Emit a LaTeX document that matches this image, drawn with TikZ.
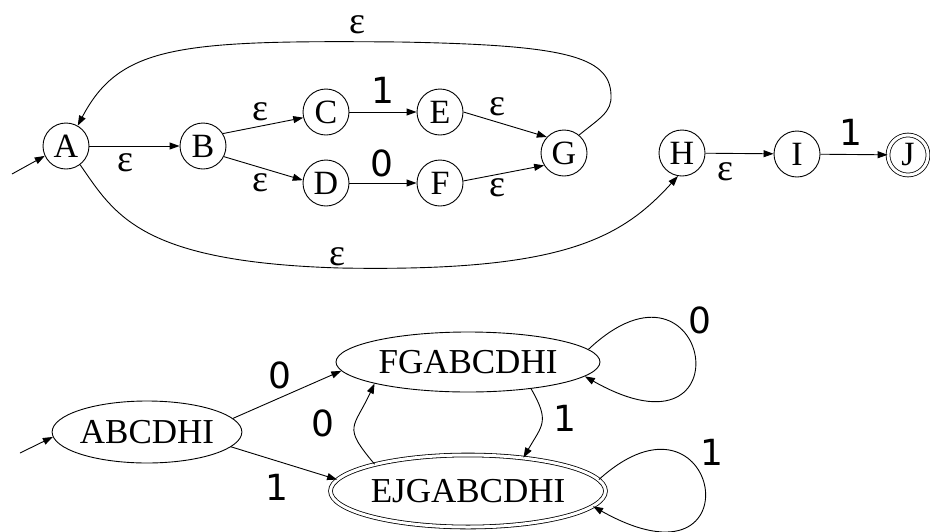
\documentclass[tikz,border=0pt]{standalone}
\usepackage{fontspec}
\setmainfont{Liberation Serif}
\newfontfamily\digitfont{DejaVu Sans}
\usetikzlibrary{arrows.meta,shapes.geometric}
\begin{document}
\begin{tikzpicture}[x=1pt,y=-1pt,
  st/.style={circle,draw,line width=0.9pt,minimum size=46pt,inner sep=0pt,font=\fontsize{34}{36}\selectfont},
  acc/.style={double,double distance=3pt,line width=0.8pt},
  el/.style={ellipse,draw,line width=0.9pt,inner sep=0pt,font=\fontsize{35}{38}\selectfont},
  edge/.style={line width=0.9pt,-{Triangle[length=10pt,width=7pt]}},
  eps/.style={inner sep=0pt,font=\fontsize{38}{40}\selectfont},
  dig/.style={inner sep=0pt,font=\digitfont\fontsize{36}{40}\selectfont}]
\useasboundingbox (0,0) rectangle (930,531);
\clip (0,0) rectangle (930,531);

% ---- NFA ----
\node[st] (A) at (66,146) {A};
\node[st] (B) at (203,146) {B};
\node[st] (C) at (326,112) {C};
\node[st] (D) at (326,183) {D};
\node[st] (E) at (440,112) {E};
\node[st] (F) at (440,183) {F};
\node[st] (G) at (564,153) {G};
\node[st] (H) at (682,153) {H};
\node[st] (I) at (797,154) {I};
\node[st,acc,minimum size=40pt] (J) at (908,155) {J};

\coordinate (s1) at (12,174);
\draw[edge] (s1) -- (A.205);
\draw[edge] (A) -- (B);
\draw[edge] (B.32) -- (C.194);
\draw[edge] (B.-27) -- (D.173);
\draw[edge] (C) -- (E);
\draw[edge] (D) -- (F);
\draw[edge] (E.0) -- (G.137);
\draw[edge] (F.5) -- (G.212);
\draw[edge] (H) -- (I);
\draw[edge] (I) -- (J);
\draw[edge] (G.50) .. controls (600,118) and (612,112) .. (611,95)
  .. controls (610,55) and (560,45) .. (400,42)
  .. controls (180,40) and (120,45) .. (A.60);
\draw[edge] (A.-53) .. controls (115,215) and (140,262) .. (340,268)
  .. controls (560,272) and (620,240) .. (H.-100);

\node[eps] (e1) at (125,163) {ε};
\node[eps] (e2) at (260,112) {ε};
\node[eps] (e3) at (260,183) {ε};
\node[eps] (e4) at (497,107) {ε};
\node[eps] (e5) at (497,188) {ε};
\node[eps] (e6) at (725,172) {ε};
\node[eps] (e7) at (357,25) {ε};
\node[eps] (e8) at (337,257) {ε};
\node[dig] (d1) at (383,90) {1};
\node[dig] (d2) at (382,163) {0};
\node[dig] (d3) at (851,132) {1};

% ---- DFA ----
\node[el,minimum width=184pt,minimum height=62pt] (abc) at (147,432) {ABCDHI};
\node[el,minimum width=264pt,minimum height=60pt] (fg) at (468,362) {FGABCDHI};
\node[el,acc,minimum width=268pt,minimum height=72pt] (ejg) at (468,491) {EJGABCDHI};

\coordinate (s2) at (20,453);
\draw[edge] (s2) -- (abc.183);
\draw[edge] (abc.9) -- (fg.184);
\draw[edge] (abc.-10) -- (ejg.175);
\draw[edge] (ejg.164) to[out=130,in=-115,looseness=1.6] (fg.193);
\draw[edge] (fg.-23) to[out=-60,in=60,looseness=1.4] (ejg.31);
\draw[edge] (fg.6) .. controls (710,235) and (750,470) .. (fg.-7);
\draw[edge] (ejg.5) .. controls (720,370) and (760,600) .. (ejg.-7);

\node[dig] (d4) at (280,375) {0};
\node[dig] (d5) at (277,487) {1};
\node[dig] (d6) at (323,423) {0};
\node[dig] (d7) at (565,418) {1};
\node[dig] (d8) at (700,320) {0};
\node[dig] (d9) at (712,452) {1};
\end{tikzpicture}
\end{document}
